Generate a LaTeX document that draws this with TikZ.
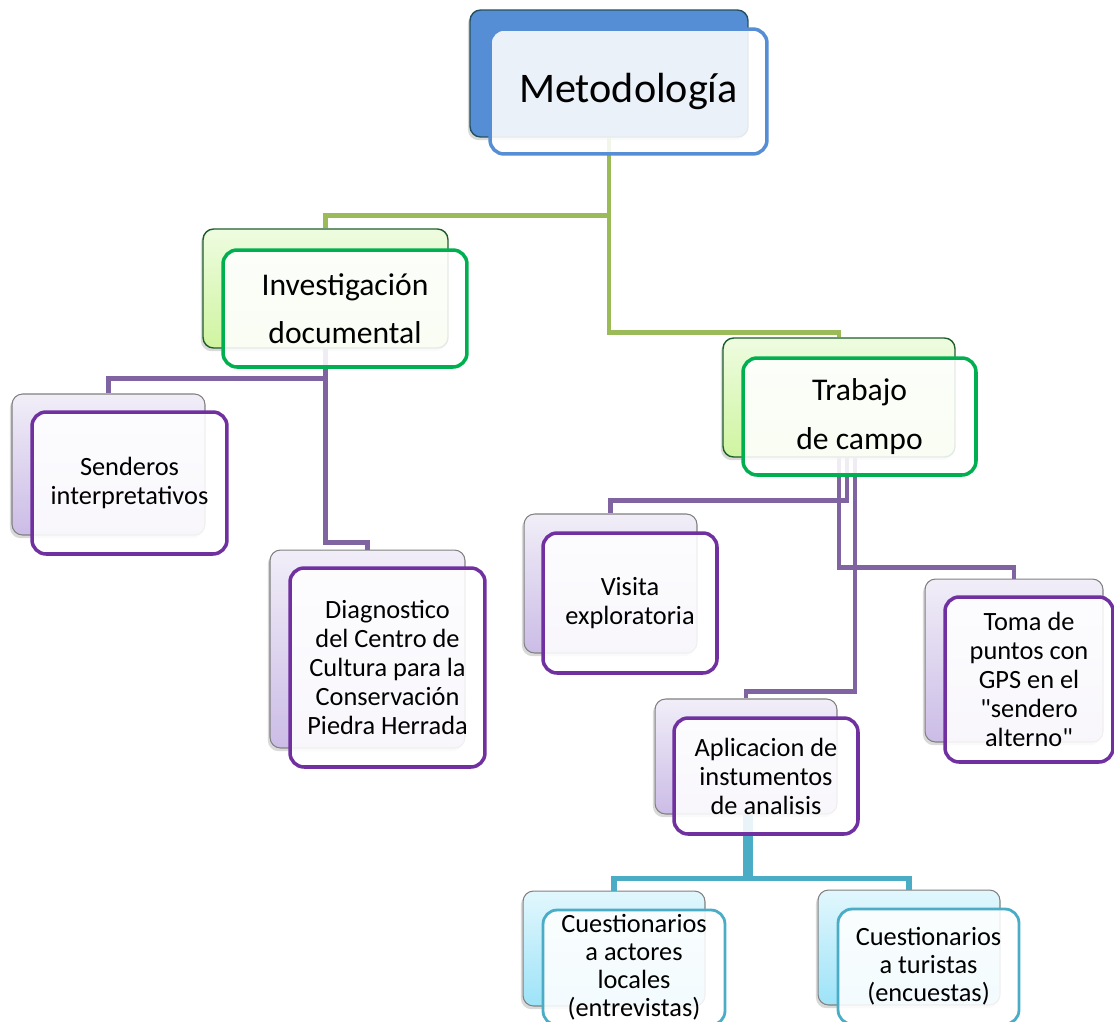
\documentclass[tikz,border=0pt]{standalone}
\usepackage{fontspec}
\setmainfont[Ligatures=TeXOff]{Carlito}
\usetikzlibrary{shadows}

\definecolor{metblue}{HTML}{558ED5}
\definecolor{metedge}{HTML}{24505E}
\definecolor{lvlgreen}{HTML}{00B050}
\definecolor{lvledge}{HTML}{1E5E2A}
\definecolor{lvltop}{HTML}{EEFCE0}
\definecolor{lvlbot}{HTML}{CFF4A0}
\definecolor{subtop}{HTML}{F1EEF8}
\definecolor{subbot}{HTML}{CBBCE6}
\definecolor{leaftop}{HTML}{E2F7FD}
\definecolor{leafbot}{HTML}{9DE3F8}
\definecolor{lnkgreen}{HTML}{9BBB59}
\definecolor{lnkpurple}{HTML}{8064A2}
\definecolor{boxpurple}{HTML}{7030A0}
\definecolor{lnkteal}{HTML}{4BACC6}

\begin{document}
\begin{tikzpicture}[x=0.02cm, y=-0.02cm,
        back/.style = {rounded corners=6pt, draw=black!50, line width=0.6pt,
                drop shadow={shadow xshift=-1.2pt, shadow yshift=-1.8pt, opacity=0.3}},
        front/.style = {rounded corners=8pt, fill=white, fill opacity=0.88, text opacity=1,
                line width=2pt, align=center, inner sep=2pt},
        topb/.style = {back, fill=metblue, draw=metedge, line width=0.8pt},
        topf/.style = {front, draw=metblue, font=\fontsize{24}{28}\selectfont},
        lvlb/.style = {back, top color=lvltop, bottom color=lvlbot, draw=lvledge, line width=0.8pt},
        lvlf/.style = {front, draw=lvlgreen, font=\fontsize{18}{27.5}\selectfont},
        subb/.style = {back, top color=subtop, bottom color=subbot},
        subf/.style = {front, draw=boxpurple, font=\fontsize{15}{16.5}\selectfont},
        leafb/.style = {back, top color=leaftop, bottom color=leafbot},
        leaff/.style = {front, draw=lnkteal, line width=1.6pt, font=\fontsize{15}{16}\selectfont},
        grn/.style = {draw=lnkgreen, line width=2.8pt},
        prp/.style = {draw=lnkpurple, line width=2.6pt},
        tel/.style = {draw=lnkteal, line width=3pt}]
        \useasboundingbox (0,0) rectangle (1114,1021);

        % back boxes
        \node[topb, minimum width=5.56cm, minimum height=2.54cm] at (609, 73.5) (M) {};
        \node[lvlb, minimum width=4.9cm, minimum height=2.38cm] at (325.5, 288.5) (I) {};
        \node[lvlb, minimum width=4.64cm, minimum height=2.38cm] at (839, 397.5) (T) {};
        \node[subb, minimum width=3.86cm, minimum height=2.82cm] at (108.5, 464.5) (S) {};
        \node[subb, minimum width=3.9cm, minimum height=3.96cm] at (367.5, 649) (D) {};
        \node[subb, minimum width=3.46cm, minimum height=2.78cm] at (610.5, 583.5) (V) {};
        \node[subb, minimum width=3.56cm, minimum height=3.26cm] at (1014, 660.5) (G) {};
        \node[subb, minimum width=3.64cm, minimum height=2.3cm] at (746, 756.5) (A) {};
        \node[leafb, minimum width=3.64cm, minimum height=2.3cm] at (614, 948.5) (C1) {};
        \node[leafb, minimum width=3.64cm, minimum height=2.3cm] at (909, 947.5) (C2) {};

        % connectors
        \draw[grn] (M.south) -- ++(0,78) -| (I.north);
        \draw[grn] (M.south) -- ++(0,195) -| (T.north);

        \draw[prp] (I.south) -- ++(0,30) -| (S.north);
        \draw[prp] (I.south) -- ++(0,194) -| (D.north);
        \draw[prp] (T.south) ++(8,0) -- ++(0,43) -| (V.north);
        \draw[prp] (T.south) -- ++(0,110) -| (G.north);
        \draw[prp] (T.south) ++(16,0) -- ++(0,234) -| (A.north);

        \draw[tel] (A.south) -- ++(0,64) -| (C1.north);
        \draw[tel] (A.south) ++(4,0) -- ++(0,64) -| (C2.north);

        % front boxes
        \node[topf, minimum width=5.54cm, minimum height=2.5cm] at (628.5, 91.5) (Mf) {Metodología};
        \node[lvlf, minimum width=4.88cm, minimum height=2.34cm] at (345, 308.5) (If) {Investigación\\documental};
        \node[lvlf, minimum width=4.66cm, minimum height=2.34cm] at (859.5, 416.5) (Tf) {Trabajo\\de campo};
        \node[subf, minimum width=3.9cm, minimum height=2.84cm] at (129.5, 483) (Sf) {Senderos\\interpretativos};
        \node[subf, minimum width=3.9cm, minimum height=3.98cm] at (387.5, 667.5) (Df)
                {Diagnostico\\del Centro de\\Cultura para la\\Conservación\\Piedra Herrada};
        \node[subf, minimum width=3.48cm, minimum height=2.8cm] at (630, 603) (Vf) {Visita\\exploratoria};
        \node[subf, minimum width=3.36cm, minimum height=3.3cm] at (1029, 679.5) (Gf)
                {Toma de\\puntos con\\GPS en el\\"sendero\\alterno"};
        \node[subf, minimum width=3.68cm, minimum height=2.32cm] at (766, 776) (Af)
                {Aplicacion de\\instumentos\\de analisis};
        \node[leaff, minimum width=3.64cm, minimum height=2.3cm] at (634, 967.5) (C1f)
                {Cuestionarios\\a actores\\locales\\(entrevistas)};
        \node[leaff, minimum width=3.62cm, minimum height=2.3cm] at (928.5, 966.5) (C2f)
                {Cuestionarios\\a turistas\\(encuestas)};
\end{tikzpicture}
\end{document}
